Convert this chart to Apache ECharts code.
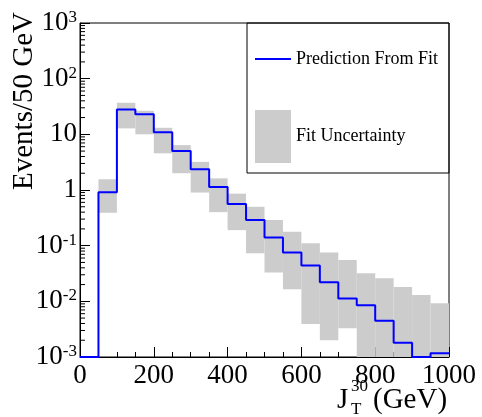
<!DOCTYPE html>
<html>
<head>
<meta charset="utf-8">
<script src="https://cdn.jsdelivr.net/npm/echarts@6/dist/echarts.min.js"></script>
<style>
  html, body { margin: 0; padding: 0; background: #fff; }
  #main { width: 482px; height: 417px; }
</style>
</head>
<body>
<div id="main"></div>
<script>
// lower edges of the 50 GeV bins
var binEdges = [0, 50, 100, 150, 200, 250, 300, 350, 400, 450, 500, 550, 600, 650, 700, 750, 800, 850, 900, 950];
var binWidth = 50;
// prediction from fit (events / 50 GeV)
var prediction = [0.001, 0.91, 28, 23, 10.9, 5.0, 2.35, 1.13, 0.56, 0.29, 0.14, 0.075, 0.044, 0.022, 0.0112, 0.0085, 0.0045, 0.0018, 0.001, 0.00117];
// fit uncertainty band
var uncLow = [null, 0.39, 12.8, 10, 4.56, 2.0, 0.9, 0.40, 0.19, 0.073, 0.033, 0.0165, 0.0039, 0.0020, 0.0033, 0.001, 0.001, 0.001, 0.001, 0.001];
var uncHigh = [null, 1.56, 36.9, 26.5, 13.1, 6.4, 3.2, 1.62, 0.86, 0.50, 0.29, 0.178, 0.110, 0.075, 0.055, 0.032, 0.026, 0.018, 0.013, 0.0092];
// y axis decades and minor tick multipliers
var yDecades = [0.001, 0.01, 0.1, 1, 10, 100];
var minorMult = [2, 3, 4, 5, 6, 7, 8, 9];

var chart = echarts.init(document.getElementById("main"));
var serif = "Liberation Serif";

var stepData = binEdges.map(function (x, i) {
  return [x, prediction[i]];
});
stepData.push([binEdges[binEdges.length - 1] + binWidth, prediction[prediction.length - 1]]);

var bandData = [];
binEdges.forEach(function (x, i) {
  if (uncLow[i] == null) return;
  bandData.push([x, x + binWidth, uncLow[i], uncHigh[i]]);
});

var minorTicks = [];
yDecades.forEach(function (d) {
  minorMult.forEach(function (m) {
    minorTicks.push([0, d * m]);
  });
});

var option = {
  animation: false,
  textStyle: { fontFamily: serif },
  grid: {
    left: 80,
    right: 33,
    top: 23,
    bottom: 60,
    outerBoundsMode: "none",
    containLabel: false,
    show: true,
    borderColor: "#000",
    borderWidth: 1
  },
  legend: [
    {
      left: 255,
      top: 50,
      padding: 0,
      itemWidth: 36,
      itemHeight: 2,
      selectedMode: false,
      data: [{ name: "Prediction From Fit", icon: "rect" }],
      textStyle: { fontFamily: serif, fontSize: 18, color: "#000" }
    },
    {
      left: 255,
      top: 110,
      padding: 0,
      itemWidth: 36,
      itemHeight: 53,
      selectedMode: false,
      data: [{ name: "Fit Uncertainty", icon: "rect" }],
      textStyle: { fontFamily: serif, fontSize: 18, color: "#000" }
    }
  ],
  graphic: [
    {
      type: "rect",
      shape: { x: 247, y: 23, width: 202, height: 150 },
      style: { fill: null, stroke: "#000", lineWidth: 1 },
      z: 10
    },
    {
      type: "group",
      children: [
        { type: "text", left: 337, top: 386, style: { text: "J", font: "29px " + serif, fill: "#000" } },
        { type: "text", left: 351, top: 378, style: { text: "30", font: "17px " + serif, fill: "#000" } },
        { type: "text", left: 351, top: 401, style: { text: "T", font: "17px " + serif, fill: "#000" } },
        { type: "text", left: 373, top: 386, style: { text: "(GeV)", font: "29px " + serif, fill: "#000" } }
      ]
    }
  ],
  xAxis: {
    type: "value",
    min: 0,
    max: 1000,
    interval: 200,
    axisLine: { lineStyle: { color: "#000", width: 1 } },
    axisTick: { inside: true, length: 10, lineStyle: { color: "#000" } },
    minorTick: { show: true, splitNumber: 4, length: 5, lineStyle: { color: "#000" } },
    splitLine: { show: false },
    axisLabel: {
      color: "#000",
      fontSize: 27,
      fontFamily: serif,
      margin: 5,
      formatter: function (v) { return String(v); }
    }
  },
  yAxis: {
    type: "log",
    logBase: 10,
    min: 0.001,
    max: 1000,
    name: "Events/50 GeV",
    nameLocation: "middle",
    nameGap: 41,
    nameMoveOverlap: false,
    nameRotate: 90,
    nameTextStyle: { fontSize: 29, fontFamily: serif, color: "#000", align: "left" },
    axisLine: { lineStyle: { color: "#000", width: 1 } },
    axisTick: { inside: true, length: 10, lineStyle: { color: "#000" } },
    splitLine: { show: false },
    axisLabel: {
      margin: 3,
      color: "#000",
      formatter: function (v) {
        var e = Math.round(Math.log10(v));
        if (e === 0) return "{b|1}";
        if (e === 1) return "{b|10}";
        return "{b|10}{s|" + e + "}";
      },
      rich: {
        b: { fontSize: 27, fontFamily: serif, color: "#000", lineHeight: 28 },
        s: { fontSize: 17, fontFamily: serif, color: "#000", verticalAlign: "top", lineHeight: 17 }
      }
    }
  },
  series: [
    {
      name: "Fit Uncertainty",
      type: "custom",
      itemStyle: { color: "#cccccc" },
      encode: { x: [0, 1], y: [2, 3] },
      data: bandData,
      z: 1,
      renderItem: function (params, api) {
        var p0 = api.coord([api.value(0), api.value(3)]);
        var p1 = api.coord([api.value(1), api.value(2)]);
        return {
          type: "rect",
          shape: { x: p0[0], y: p0[1], width: p1[0] - p0[0], height: p1[1] - p0[1] },
          style: { fill: "#cccccc" }
        };
      }
    },
    {
      name: "Prediction From Fit",
      type: "line",
      step: "end",
      symbol: "none",
      clip: false,
      color: "#0000ff",
      lineStyle: { color: "#0000ff", width: 2 },
      data: stepData,
      z: 3
    },
    {
      // log-spaced minor ticks on the y axis
      type: "custom",
      silent: true,
      data: minorTicks,
      z: 4,
      renderItem: function (params, api) {
        var p = api.coord([api.value(0), api.value(1)]);
        return {
          type: "line",
          shape: { x1: p[0], y1: p[1], x2: p[0] + 5, y2: p[1] },
          style: { stroke: "#000", lineWidth: 1 }
        };
      }
    }
  ]
};

chart.setOption(option);
</script>
</body>
</html>
